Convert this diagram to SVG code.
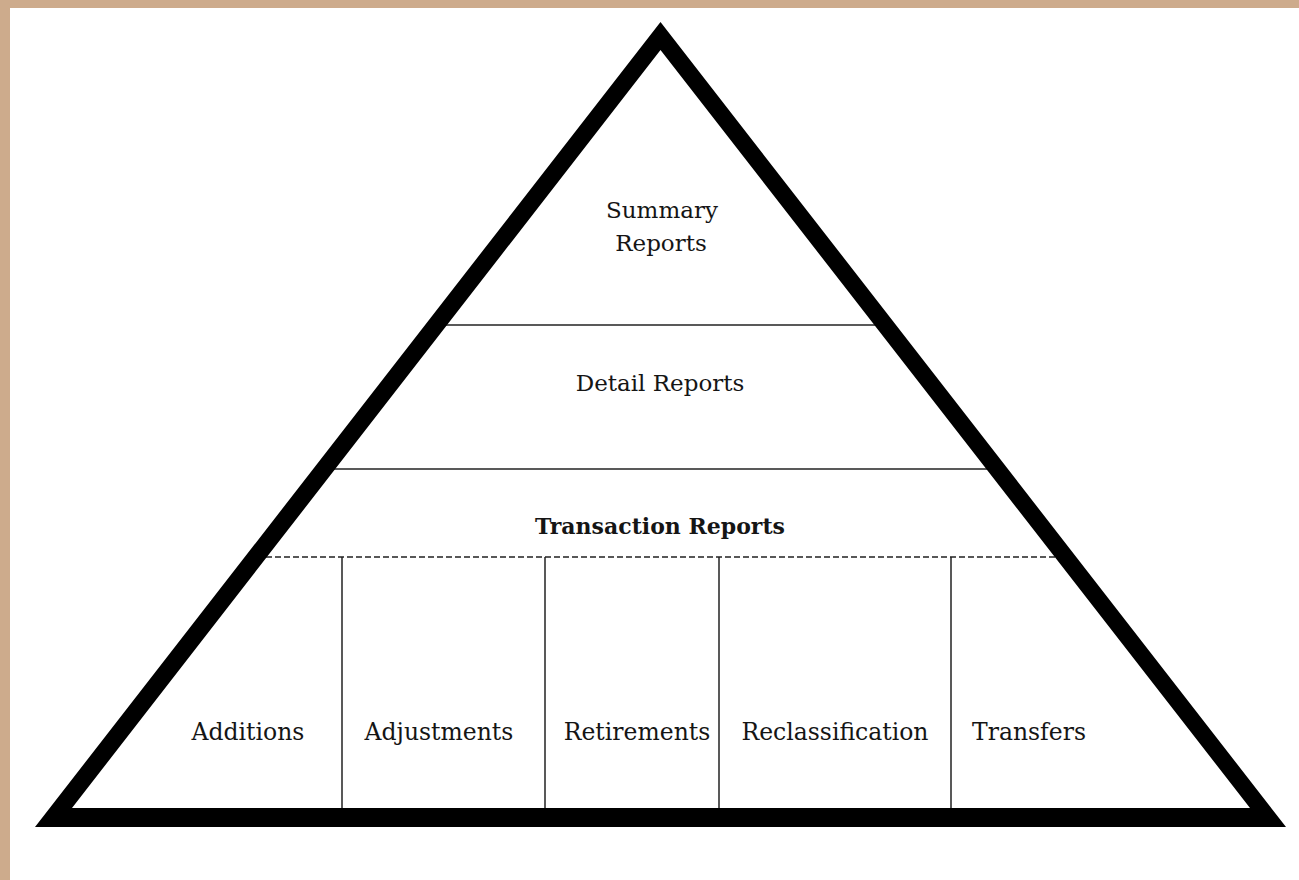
<svg xmlns="http://www.w3.org/2000/svg" width="1299" height="880" viewBox="0 0 1299 880">
<style>
.t{font-family:"DejaVu Serif","Liberation Serif",serif;font-size:23px;fill:#151515;text-anchor:middle}
.s{font-size:23.5px}
.b{font-weight:bold;font-size:22px}
.ln{stroke:#222;stroke-width:1.5;fill:none}
.dash{stroke-dasharray:6 3}
</style>
<rect x="0" y="0" width="1299" height="880" fill="#fff"/>
<rect x="0" y="0" width="1299" height="8" fill="#CDAB8C"/>
<rect x="0" y="0" width="10" height="880" fill="#CDAB8C"/>
<g id="connectors">
<line class="ln" x1="441" y1="325" x2="880" y2="325"/>
<line class="ln" x1="329" y1="469" x2="992" y2="469"/>
<line class="ln dash" x1="266" y1="557" x2="1056" y2="557"/>
<line class="ln" x1="342" y1="557" x2="342" y2="810"/>
<line class="ln" x1="545" y1="557" x2="545" y2="810"/>
<line class="ln" x1="719" y1="557" x2="719" y2="810"/>
<line class="ln" x1="951" y1="557" x2="951" y2="810"/>
</g>
<g id="pyramid">
<path fill="#000" fill-rule="evenodd" d="M660.5 22 L35 827 L1286 827 Z M660.5 50 L72 808 L1250 808 Z"/>
</g>
<g id="summary"><text class="t" x="662" y="218">Summary</text><text class="t" x="661" y="251">Reports</text></g>
<g id="detail"><text class="t" x="660" y="391">Detail Reports</text></g>
<g id="transaction"><text class="t b" x="660" y="534">Transaction Reports</text></g>
<g id="additions"><text class="t s" x="248" y="740">Additions</text></g>
<g id="adjustments"><text class="t s" x="439" y="740">Adjustments</text></g>
<g id="retirements"><text class="t s" x="637" y="740">Retirements</text></g>
<g id="reclassification"><text class="t s" x="835" y="740">Reclassification</text></g>
<g id="transfers"><text class="t s" x="1029" y="740">Transfers</text></g>
</svg>
